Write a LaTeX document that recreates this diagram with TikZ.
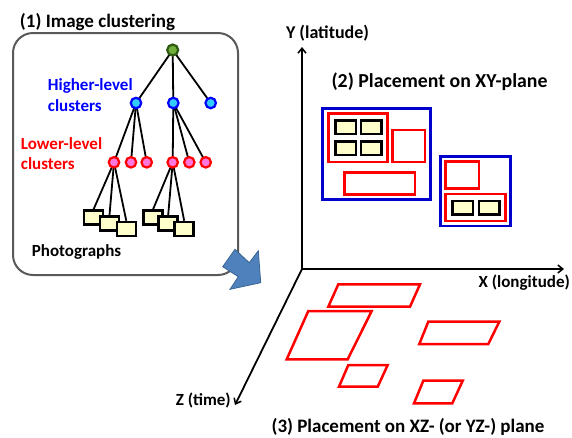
\documentclass[tikz,border=0pt]{standalone}
\usepackage{fontspec}
\setmainfont{Carlito}
\usetikzlibrary{arrows.meta}
\definecolor{boxgray}{HTML}{595959}
\definecolor{photofill}{HTML}{FFFFCC}
\definecolor{rootfill}{HTML}{6FAF3A}
\definecolor{rootline}{HTML}{2E5A12}
\definecolor{hifill}{HTML}{33CCFF}
\definecolor{hiline}{HTML}{0000FF}
\definecolor{lofill}{HTML}{FF77DD}
\definecolor{loline}{HTML}{FF0000}
\definecolor{planered}{HTML}{FF0000}
\definecolor{planeblue}{HTML}{0000CC}
\definecolor{arrowfill}{HTML}{4F81BD}
\definecolor{arrowline}{HTML}{3A6594}
\begin{document}
\begin{tikzpicture}[x=1pt,y=-1pt,
  lbl/.style={font=\fontsize{19}{22}\selectfont\bfseries, inner sep=0pt},
  slbl/.style={font=\fontsize{17}{20}\selectfont\bfseries, inner sep=0pt},
  treenode/.style={circle, inner sep=0pt, minimum size=10.5pt, line width=2.2pt},
  rootnode/.style={treenode, fill=rootfill, draw=rootline, minimum size=11pt},
  hinode/.style={treenode, fill=hifill, draw=hiline},
  lonode/.style={treenode, fill=lofill, draw=loline},
  edge/.style={line width=1.8pt, black},
  photo/.style={rectangle, draw=black, fill=photofill, line width=2.5pt, inner sep=0pt, minimum width=19pt, minimum height=14pt},
  sphoto/.style={photo, minimum width=20.5pt, minimum height=13.5pt},
  redbox/.style={draw=planered, line width=2.5pt},
  bluebox/.style={draw=planeblue, line width=2.5pt},
  axis/.style={line width=1.8pt, black, -{Straight Barb[length=5pt,width=8pt,line width=1.5pt]}}
]
\useasboundingbox (0,0) rectangle (572,437);

% (1) image clustering box
\node[lbl, anchor=center] (t1) at (97.5,22) {(1) Image clustering};
\draw[boxgray, line width=2pt, rounded corners=20pt] (13,33) rectangle (238,275);

% tree node positions
\coordinate (croot) at (172.7,50);
\coordinate (ch1) at (136,103);
\coordinate (ch2) at (173.3,103);
\coordinate (ch3) at (210.7,103);
\coordinate (cl1) at (114,162.3);
\coordinate (cl2) at (131,162.3);
\coordinate (cl3) at (146.7,162.3);
\coordinate (cl4) at (172.7,162.3);
\coordinate (cl5) at (189.3,162.3);
\coordinate (cl6) at (205.7,162.3);

% photo anchors
\node[photo] (p1) at (93.5,217.7) {};
\node[photo] (p2) at (109.5,223.3) {};
\node[photo] (p3) at (126.3,229) {};
\node[photo] (p4) at (153,217.7) {};
\node[photo] (p5) at (168.2,223.3) {};
\node[photo] (p6) at (184.2,229) {};

% edges
\draw[edge] (croot) -- (ch1);
\draw[edge] (croot) -- (ch2);
\draw[edge] (croot) -- (ch3);
\draw[edge] (ch1) -- (cl1);
\draw[edge] (ch1) -- (cl2);
\draw[edge] (ch1) -- (cl3);
\draw[edge] (ch2) -- (cl4);
\draw[edge] (ch2) -- (cl5);
\draw[edge] (ch2) -- (cl6);
\draw[edge] (cl1) -- (p1.north);
\draw[edge] (cl1) -- (p2.north);
\draw[edge] (cl1) -- (p3.north);
\draw[edge] (cl4) -- (p4.north);
\draw[edge] (cl4) -- (p5.north);
\draw[edge] (cl4) -- (p6.north);

% photos on top of edges
\node[photo] (q1) at (93.5,217.7) {};
\node[photo] (q2) at (109.5,223.3) {};
\node[photo] (q3) at (126.3,229) {};
\node[photo] (q4) at (153,217.7) {};
\node[photo] (q5) at (168.2,223.3) {};
\node[photo] (q6) at (184.2,229) {};

\node[rootnode] (root) at (croot) {};
\node[hinode] (h1) at (ch1) {};
\node[hinode] (h2) at (ch2) {};
\node[hinode] (h3) at (ch3) {};
\node[lonode] (l1) at (cl1) {};
\node[lonode] (l2) at (cl2) {};
\node[lonode] (l3) at (cl3) {};
\node[lonode] (l4) at (cl4) {};
\node[lonode] (l5) at (cl5) {};
\node[lonode] (l6) at (cl6) {};

\node[slbl, anchor=west, text=hiline] (hl1) at (47.7,86) {Higher-level};
\node[slbl, anchor=west, text=hiline] (hl2) at (47.7,106) {clusters};
\node[slbl, anchor=west, text=loline] (ll1) at (20.7,144) {Lower-level};
\node[slbl, anchor=west, text=loline] (ll2) at (20.7,164) {clusters};
\node[slbl, anchor=west] (ph) at (31.7,251.7) {Photographs};

% block arrow
\draw[fill=arrowfill, draw=arrowline, line width=0.8pt, line join=miter]
  (235,249.3) -- (249.3,262.7) -- (258.3,250.7) -- (260.7,282.7)
  -- (230,289.3) -- (238.3,276.7) -- (222.7,266.7) -- cycle;

% axes
\coordinate (O) at (302,269);
\coordinate (Ytip) at (302,47);
\coordinate (Xtip) at (564,269);
\coordinate (Ztip) at (235,405);
\draw[axis] (O) -- (Ytip);
\draw[axis] (O) -- (Xtip);
\draw[axis] (O) -- (Ztip);
\node[slbl, font=\fontsize{18}{21}\selectfont\bfseries] (ylab) at (327.5,33) {Y (latitude)};
\node[slbl, anchor=east] (xlab) at (570,283) {X (longitude)};
\node[slbl, anchor=east] (zlab) at (231,400) {Z (time)};

% (2) XY plane
\node[lbl, font=\fontsize{19.8}{23}\selectfont\bfseries] (t2) at (439.5,82) {(2) Placement on XY-plane};
\draw[bluebox] (322.7,108.3) rectangle (430.7,199.3);
\draw[redbox] (328.3,113.3) rectangle (387.7,162);
\draw[redbox] (392.3,130) rectangle (425,162);
\draw[redbox] (344.3,172.3) rectangle (415,194.3);
\node[sphoto] (s1) at (345.5,127) {};
\node[sphoto] (s2) at (371,127) {};
\node[sphoto] (s3) at (345.5,148.3) {};
\node[sphoto] (s4) at (371,148.3) {};
\draw[bluebox] (440.7,156.7) rectangle (510.7,226);
\draw[redbox] (445.7,161.7) rectangle (479,188.3);
\draw[redbox] (445.7,194) rectangle (505.7,221);
\node[sphoto] (s5) at (462.5,207.5) {};
\node[sphoto] (s6) at (489,207.5) {};

% (3) XZ plane
\node[lbl] (t3) at (408,426.5) {(3) Placement on XZ- (or YZ-) plane};
\draw[redbox, line join=miter] (338.3,284.3) -- (420,284.3) -- (410,306.7) -- (328.3,306.7) -- cycle;
\draw[redbox, line join=miter] (308.3,311) -- (371.7,311) -- (347.7,359.3) -- (286.7,359.3) -- cycle;
\draw[redbox, line join=miter] (428.3,321.7) -- (499.3,321.7) -- (488.3,344) -- (419.3,344) -- cycle;
\draw[redbox, line join=miter] (348.3,365) -- (387.7,365) -- (377.7,386.7) -- (339,386.7) -- cycle;
\draw[redbox, line join=miter] (423.3,380.7) -- (462.7,380.7) -- (452.3,403.3) -- (414,403.3) -- cycle;
\end{tikzpicture}
\end{document}
